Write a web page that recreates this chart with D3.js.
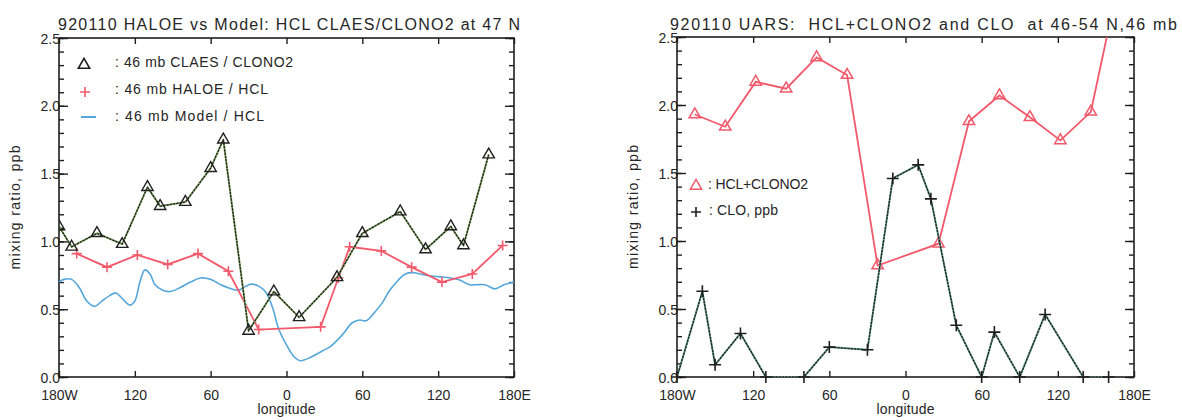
<!DOCTYPE html>
<html>
<head>
<meta charset="utf-8">
<script src="https://cdn.jsdelivr.net/npm/d3@7"></script>
<style>
  body { margin: 0; background: #fff; }
  svg { display: block; font-family: "Liberation Sans", Arial, sans-serif; }
  text { fill: #262626; }
</style>
</head>
<body>
<div id="chart"></div>
<script>
// Left panel: CLAES ClONO2, HALOE HCl, model HCl at 46 mb
let claesLon = [-180, -170, -150, -130, -110, -100, -80, -60, -50, -30, -10, 10, 40, 60, 90, 110, 130, 140, 160];
let claesVal = [1.11, 0.96, 1.06, 0.98, 1.40, 1.26, 1.29, 1.54, 1.75, 0.34, 0.63, 0.44, 0.735, 1.06, 1.22, 0.94, 1.11, 0.97, 1.64];

let haloeLon = [-166, -142, -118, -94, -70, -46, -22, 27, 41, 50, 75, 99, 123, 147, 171];
let haloeVal = [0.91, 0.81, 0.90, 0.83, 0.91, 0.78, 0.35, 0.37, 0.73, 0.96, 0.93, 0.81, 0.70, 0.76, 0.97];

let modelLon = [-180, -176, -170, -164, -158, -152, -146, -140, -135, -130, -124, -120, -116, -112, -108, -104, -98, -92, -84, -76,
  -68, -60, -52, -45, -38, -32, -28, -22, -16, -11, -6, 1, 6, 11, 20, 28, 34, 40, 45, 52,
  58, 63, 70, 76, 81, 88, 94, 100, 110, 120, 130, 137, 145, 150, 157, 165, 172, 180];
let modelVal = [0.70, 0.72, 0.72, 0.66, 0.56, 0.52, 0.56, 0.60, 0.62, 0.58, 0.53, 0.56, 0.70, 0.79, 0.76, 0.68, 0.64, 0.63, 0.66, 0.70,
  0.73, 0.72, 0.68, 0.655, 0.64, 0.67, 0.685, 0.67, 0.62, 0.51, 0.35, 0.22, 0.15, 0.12, 0.15, 0.19, 0.22, 0.27, 0.32, 0.40,
  0.42, 0.415, 0.48, 0.55, 0.63, 0.71, 0.76, 0.77, 0.75, 0.74, 0.73, 0.715, 0.68, 0.68, 0.68, 0.65, 0.68, 0.70];

// Right panel: UARS HCL+CLONO2 and CLO
let sumLon = [-166, -142, -118, -94, -70, -46, -22, 26, 50, 74, 98, 122, 146, 170];
let sumVal = [1.93, 1.84, 2.17, 2.12, 2.35, 2.22, 0.82, 0.98, 1.88, 2.07, 1.91, 1.74, 1.95, 3.0];

let cloLon = [-180, -160, -150, -130, -110, -80, -60, -30, -10, 10, 20, 40, 60, 70, 90, 110, 140, 160];
let cloVal = [0, 0.63, 0.09, 0.32, 0, 0, 0.22, 0.20, 1.46, 1.56, 1.31, 0.38, 0, 0.33, 0, 0.46, 0, 0];

let lonTicks = [-180, -120, -60, 0, 60, 120, 180];
let yMajor = [0, 0.5, 1.0, 1.5, 2.0, 2.5];
let yMinor = d3.range(0, 26).map((i) => i / 10);

let leftTitle = "920110 HALOE vs Model: HCL CLAES/CLONO2 at 47 N";
let rightTitle = "920110 UARS:  HCL+CLONO2 and CLO  at 46-54 N,46 mb";

// Set up dimensions
let width = 1182;
let height = 420;

// Set up color
let ink = "#1f1f1f";
let red = "#f2596b";
let blue = "#55a6da";
let green = "#8fb86e";

// Set up formatter
let formatLon = (d) => (d === -180 ? "180W" : d === 180 ? "180E" : `${Math.abs(d)}`);
let formatY = d3.format(".1f");

let zip = (xs, ys) => xs.map((x, i) => ({ lon: x, value: ys[i] }));

const svg = d3
  .select("#chart")
  .append("svg")
  .attr("width", width)
  .attr("height", height);

let triangle = d3.symbol(d3.symbolTriangle, 56);
let plus = (r) => `M${-r},0H${r}M0,${-r}V${r}`;

function drawPanel(p) {
  let xScale = d3.scaleLinear().domain([-180, 180]).range([p.left, p.right]);
  let yScale = d3.scaleLinear().domain([0, 2.5]).range([p.bottom, p.top]);

  let g = svg.append("g");

  // Clip for series that leave the box
  g.append("clipPath")
    .attr("id", p.id + "-clip")
    .append("rect")
    .attr("x", p.left)
    .attr("y", p.top)
    .attr("width", p.right - p.left)
    .attr("height", p.bottom - p.top);

  // Draw title
  g.append("text")
    .attr("x", p.titleX)
    .attr("y", 30)
    .attr("font-size", 16)
    .attr("textLength", p.titleLen)
    .attr("lengthAdjust", "spacing")
    .style("white-space", "pre")
    .text(p.title);

  // Draw bottom axis
  const xAxisG = g
    .append("g")
    .attr("transform", `translate(0,${p.bottom})`)
    .call(d3.axisBottom(xScale).tickValues(lonTicks).tickSize(-6).tickPadding(13).tickFormat(formatLon));
  xAxisG.select(".domain").remove();
  xAxisG.attr("font-size", 14).attr("font-family", null);

  // Draw top axis
  const xTopG = g
    .append("g")
    .attr("transform", `translate(0,${p.top})`)
    .call(d3.axisTop(xScale).tickValues(lonTicks).tickSize(-6).tickFormat(""));
  xTopG.select(".domain").remove();

  // Draw left axis
  const yMinorG = g
    .append("g")
    .attr("transform", `translate(${p.left},0)`)
    .call(d3.axisLeft(yScale).tickValues(yMinor).tickSize(-5).tickFormat(""));
  yMinorG.select(".domain").remove();

  const yAxisG = g
    .append("g")
    .attr("transform", `translate(${p.left},0)`)
    .call(d3.axisLeft(yScale).tickValues(yMajor).tickSize(-9).tickPadding(5).tickFormat(formatY));
  yAxisG.select(".domain").remove();
  yAxisG.attr("font-size", 14).attr("font-family", null);
  yAxisG.selectAll("text").attr("dx", 6).attr("dy", "0.36em");

  // Draw right axis
  const yRightMinor = g
    .append("g")
    .attr("transform", `translate(${p.right},0)`)
    .call(d3.axisRight(yScale).tickValues(yMinor).tickSize(-5).tickFormat(""));
  yRightMinor.select(".domain").remove();

  const yRightMajor = g
    .append("g")
    .attr("transform", `translate(${p.right},0)`)
    .call(d3.axisRight(yScale).tickValues(yMajor).tickSize(-9).tickFormat(""));
  yRightMajor.select(".domain").remove();

  g.selectAll(".tick line").attr("stroke", ink).attr("stroke-width", 1.4);
  g.selectAll(".tick text").attr("fill", "#262626");

  // Draw frame
  g.append("rect")
    .attr("x", p.left)
    .attr("y", p.top)
    .attr("width", p.right - p.left)
    .attr("height", p.bottom - p.top)
    .attr("fill", "none")
    .attr("stroke", ink)
    .attr("stroke-width", 1.6);

  // Draw axis titles
  g.append("text")
    .attr("x", (p.left + p.right) / 2)
    .attr("y", 414)
    .attr("text-anchor", "middle")
    .attr("font-size", 14)
    .attr("textLength", 58)
    .attr("lengthAdjust", "spacing")
    .text("longitude");

  g.append("text")
    .attr("transform", `translate(${p.left - 39},${(p.top + p.bottom) / 2}) rotate(-90)`)
    .attr("text-anchor", "middle")
    .attr("font-size", 14)
    .attr("textLength", 124)
    .attr("lengthAdjust", "spacing")
    .text("mixing ratio, ppb");

  let line = d3
    .line()
    .x((d) => xScale(d.lon))
    .y((d) => yScale(d.value));

  let series = g.append("g").attr("clip-path", `url(#${p.id}-clip)`);

  return { g, series, line, xScale, yScale };
}

// Dotted dark line with a thin coloured halo, as in the scan
function darkLine(series, line, data, halo) {
  series.append("path")
    .attr("d", line(data))
    .attr("fill", "none")
    .attr("stroke", halo)
    .attr("stroke-width", 2)
    .attr("stroke-linejoin", "round");
  series.append("path")
    .attr("d", line(data))
    .attr("fill", "none")
    .attr("stroke", ink)
    .attr("stroke-width", 1.3)
    .attr("stroke-dasharray", "2.5,0.8")
    .attr("stroke-linejoin", "round");
}

// ---------- Left panel ----------
let left = drawPanel({
  id: "left",
  left: 59,
  right: 514,
  top: 38,
  bottom: 377,
  title: leftTitle,
  titleX: 58,
  titleLen: 462,
});

// Model HCL
left.series
  .append("path")
  .attr("d", left.line.curve(d3.curveCatmullRom)(zip(modelLon, modelVal)))
  .attr("fill", "none")
  .attr("stroke", blue)
  .attr("stroke-width", 1.6);
left.line.curve(d3.curveLinear);

// HALOE HCL
left.series
  .append("path")
  .attr("d", left.line(zip(haloeLon, haloeVal)))
  .attr("fill", "none")
  .attr("stroke", red)
  .attr("stroke-width", 1.8);
left.series
  .selectAll(".haloe")
  .data(zip(haloeLon, haloeVal))
  .join("path")
  .attr("class", "haloe")
  .attr("transform", (d) => `translate(${left.xScale(d.lon)},${left.yScale(d.value)})`)
  .attr("d", plus(5))
  .attr("stroke", red)
  .attr("stroke-width", 1.6);

// CLAES ClONO2
darkLine(left.series, left.line, zip(claesLon, claesVal), green);
left.series
  .selectAll(".claes")
  .data(zip(claesLon, claesVal))
  .join("path")
  .attr("class", "claes")
  .attr("transform", (d) => `translate(${left.xScale(d.lon)},${left.yScale(d.value)})`)
  .attr("d", triangle())
  .attr("fill", "none")
  .attr("stroke", ink)
  .attr("stroke-width", 1.4);

// Left legend
let leftLegend = [
  { label: ": 46 mb CLAES / CLONO2", y: 67, len: 178 },
  { label: ": 46 mb HALOE / HCL", y: 94, len: 153 },
  { label: ": 46 mb Model / HCL", y: 121, len: 149 },
];
let lg = left.g.append("g");
lg.selectAll("text")
  .data(leftLegend)
  .join("text")
  .attr("x", 115)
  .attr("y", (d) => d.y)
  .attr("font-size", 14)
  .attr("textLength", (d) => d.len)
  .attr("lengthAdjust", "spacing")
  .text((d) => d.label);
lg.append("path")
  .attr("transform", `translate(84,65)`)
  .attr("d", triangle())
  .attr("fill", "none")
  .attr("stroke", ink)
  .attr("stroke-width", 1.6);
lg.append("path")
  .attr("transform", `translate(85,92)`)
  .attr("d", plus(5))
  .attr("stroke", red)
  .attr("stroke-width", 1.6);
lg.append("line")
  .attr("x1", 81)
  .attr("x2", 96)
  .attr("y1", 117)
  .attr("y2", 117)
  .attr("stroke", blue)
  .attr("stroke-width", 2);

// ---------- Right panel ----------
let right = drawPanel({
  id: "right",
  left: 677,
  right: 1134,
  top: 37,
  bottom: 377,
  title: rightTitle,
  titleX: 670,
  titleLen: 507,
});

// HCL+CLONO2
right.series
  .append("path")
  .attr("d", right.line(zip(sumLon, sumVal)))
  .attr("fill", "none")
  .attr("stroke", red)
  .attr("stroke-width", 1.8);
right.series
  .selectAll(".sum")
  .data(zip(sumLon, sumVal))
  .join("path")
  .attr("class", "sum")
  .attr("transform", (d) => `translate(${right.xScale(d.lon)},${right.yScale(d.value)})`)
  .attr("d", triangle())
  .attr("fill", "none")
  .attr("stroke", red)
  .attr("stroke-width", 1.5);

// CLO
darkLine(right.series, right.line, zip(cloLon, cloVal), "#6aaa96");
right.g
  .append("g")
  .selectAll("path")
  .data(zip(cloLon, cloVal))
  .join("path")
  .attr("transform", (d) => `translate(${right.xScale(d.lon)},${right.yScale(d.value)})`)
  .attr("d", plus(6))
  .attr("stroke", ink)
  .attr("stroke-width", 1.6);

// Right legend
let rg = right.g.append("g");
rg.append("path")
  .attr("transform", `translate(696,186)`)
  .attr("d", triangle())
  .attr("fill", "none")
  .attr("stroke", red)
  .attr("stroke-width", 1.5);
rg.append("text")
  .attr("x", 708)
  .attr("y", 189)
  .attr("font-size", 14)
  .attr("textLength", 100)
  .attr("lengthAdjust", "spacing")
  .text(": HCL+CLONO2");
rg.append("path")
  .attr("transform", `translate(696,212)`)
  .attr("d", plus(5))
  .attr("stroke", ink)
  .attr("stroke-width", 1.6);
rg.append("text")
  .attr("x", 709)
  .attr("y", 215)
  .attr("font-size", 14)
  .attr("textLength", 69)
  .attr("lengthAdjust", "spacing")
  .text(": CLO, ppb");
</script>
</body>
</html>
